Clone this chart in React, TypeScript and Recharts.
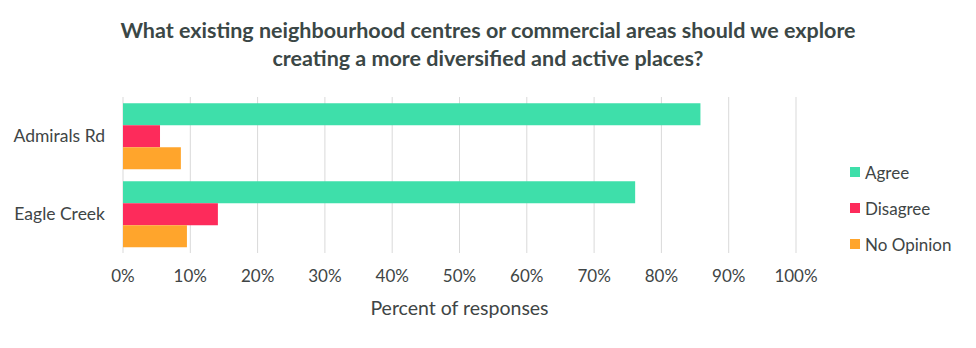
import React from 'react';
import { BarChart, Bar, XAxis, YAxis, CartesianGrid } from 'recharts';

const categories = ['Admirals Rd', 'Eagle Creek'];
const agree = [85.8, 76.1];
const disagree = [5.5, 14.1];
const noOpinion = [8.6, 9.5];
const xTicks = [0, 10, 20, 30, 40, 50, 60, 70, 80, 90, 100];
const seriesNames = ['Agree', 'Disagree', 'No Opinion'];
const seriesColors = ['#3EDFAA', '#FD2B5B', '#FFA52C'];

const data = categories.map((c, i) => ({
  name: c,
  Agree: agree[i],
  Disagree: disagree[i],
  'No Opinion': noOpinion[i],
}));

const FONT = 'Lato, "Open Sans", sans-serif';
const TEXT = '#404545';

export default function App() {
  return (
    <div style={{ position: 'absolute', left: 0, top: 0, width: 976, height: 348, background: '#fff' }}>
      <div
        style={{
          position: 'absolute',
          left: 0,
          top: 16,
          width: 976,
          textAlign: 'center',
          fontFamily: FONT,
          fontWeight: 700,
          fontSize: 21.5,
          lineHeight: '28px',
          color: '#3B4746',
        }}
      >
        What existing neighbourhood centres or commercial areas should we explore
        <br />
        creating a more diversified and active places?
      </div>
      <div
        style={{
          position: 'absolute',
          left: 850,
          top: 154,
          fontFamily: FONT,
          fontSize: 17,
          color: TEXT,
        }}
      >
        {seriesNames.map((n, i) => (
          <div key={n} style={{ display: 'flex', alignItems: 'center', height: 36 }}>
            <span style={{ width: 10, height: 10, background: seriesColors[i], marginRight: 5, display: 'inline-block' }} />
            <span>{n}</span>
          </div>
        ))}
      </div>
      <BarChart
        width={976}
        height={348}
        data={data}
        layout="vertical"
        margin={{ top: 97, right: 180, bottom: 0, left: 0 }}
        barCategoryGap="8%"
        barGap={0}
      >
        <CartesianGrid horizontal={false} stroke="#D9D9D9" />
        <XAxis
          type="number"
          domain={[0, 100]}
          ticks={xTicks}
          tickFormatter={(v: number) => `${v}%`}
          axisLine={false}
          tickLine={false}
          tickSize={8}
          tickMargin={9}
          height={95}
          tick={{ fill: TEXT, fontSize: 17, fontFamily: FONT }}
          label={{ value: 'Percent of responses', position: 'insideBottom', offset: 33, fill: TEXT, fontSize: 19.5, fontFamily: FONT }}
        />
        <YAxis
          type="category"
          dataKey="name"
          width={123}
          axisLine={false}
          tickLine={false}
          tickSize={0}
          tickMargin={18}
          tick={{ fill: TEXT, fontSize: 17.5, fontFamily: FONT }}
        />
        {seriesNames.map((n, i) => (
          <Bar key={n} dataKey={n} fill={seriesColors[i]} isAnimationActive={false} />
        ))}
      </BarChart>
    </div>
  );
}
